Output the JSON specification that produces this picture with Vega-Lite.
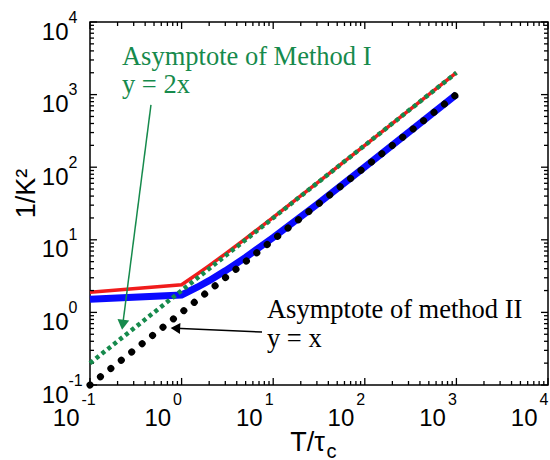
{
  "$schema": "https://vega.github.io/schema/vega-lite/v6.json",
  "width": 458,
  "height": 363,
  "autosize": "none",
  "padding": {"left": 90, "top": 22, "right": 2, "bottom": 75},
  "background": "white",
  "config": {
    "view": {"stroke": "black", "strokeWidth": 1.5},
    "axis": {"grid": false, "domain": false, "labelFlush": false, "labelOverlap": false, "labelColor": "black", "titleColor": "black", "labelFont": "Liberation Sans", "titleFont": "Liberation Sans", "titleFontWeight": "normal"}
  },
  "datasets": {
    "curves": [
      {"series": "red", "x": 0.1, "y": 1.9}, {"series": "red", "x": 1, "y": 2.4}, {"series": "red", "x": 1.5, "y": 3.4}, {"series": "red", "x": 2, "y": 4.4}, {"series": "red", "x": 3, "y": 6.4}, {"series": "red", "x": 5, "y": 10.4}, {"series": "red", "x": 10, "y": 20.4}, {"series": "red", "x": 30, "y": 60.4}, {"series": "red", "x": 100, "y": 200}, {"series": "red", "x": 1000, "y": 2000},
      {"series": "blue", "x": 0.1, "y": 1.52}, {"series": "blue", "x": 1, "y": 1.74}, {"series": "blue", "x": 1.5, "y": 2.24}, {"series": "blue", "x": 2, "y": 2.74}, {"series": "blue", "x": 3, "y": 3.74}, {"series": "blue", "x": 5, "y": 5.74}, {"series": "blue", "x": 10, "y": 10.74}, {"series": "blue", "x": 30, "y": 30.7}, {"series": "blue", "x": 100, "y": 100.7}, {"series": "blue", "x": 1000, "y": 1000},
      {"series": "green", "x": 0.1, "y": 0.2}, {"series": "green", "x": 1000, "y": 2000},
      {"series": "black", "x": 0.1, "y": 0.1}, {"series": "black", "x": 1000, "y": 1000}
    ],
    "ticks": [
      {"v": 0.1, "kind": "major"}, {"v": 1, "kind": "major"}, {"v": 10, "kind": "major"}, {"v": 100, "kind": "major"}, {"v": 1000, "kind": "major"}, {"v": 10000, "kind": "major"},
      {"v": 0.2, "kind": "minor"}, {"v": 0.3, "kind": "minor"}, {"v": 0.4, "kind": "minor"}, {"v": 0.5, "kind": "minor"}, {"v": 0.6, "kind": "minor"}, {"v": 0.7, "kind": "minor"}, {"v": 0.8, "kind": "minor"}, {"v": 0.9, "kind": "minor"},
      {"v": 2, "kind": "minor"}, {"v": 3, "kind": "minor"}, {"v": 4, "kind": "minor"}, {"v": 5, "kind": "minor"}, {"v": 6, "kind": "minor"}, {"v": 7, "kind": "minor"}, {"v": 8, "kind": "minor"}, {"v": 9, "kind": "minor"},
      {"v": 20, "kind": "minor"}, {"v": 30, "kind": "minor"}, {"v": 40, "kind": "minor"}, {"v": 50, "kind": "minor"}, {"v": 60, "kind": "minor"}, {"v": 70, "kind": "minor"}, {"v": 80, "kind": "minor"}, {"v": 90, "kind": "minor"},
      {"v": 200, "kind": "minor"}, {"v": 300, "kind": "minor"}, {"v": 400, "kind": "minor"}, {"v": 500, "kind": "minor"}, {"v": 600, "kind": "minor"}, {"v": 700, "kind": "minor"}, {"v": 800, "kind": "minor"}, {"v": 900, "kind": "minor"},
      {"v": 2000, "kind": "minor"}, {"v": 3000, "kind": "minor"}, {"v": 4000, "kind": "minor"}, {"v": 5000, "kind": "minor"}, {"v": 6000, "kind": "minor"}, {"v": 7000, "kind": "minor"}, {"v": 8000, "kind": "minor"}, {"v": 9000, "kind": "minor"}
    ],
    "arrows": [
      {"group": "I", "x": 0.463, "y": 720}, {"group": "I", "x": 0.2275, "y": 0.675},
      {"group": "II", "x": 7.55, "y": 0.537}, {"group": "II", "x": 0.856, "y": 0.605}
    ],
    "notes": [
      {"group": "I", "x": 0.2234, "y": 2560, "label": "Asymptote of Method I"},
      {"group": "I", "x": 0.2234, "y": 1052, "label": "y = 2x"},
      {"group": "II", "x": 8.55, "y": 0.837, "label": "Asymptote of method II"},
      {"group": "II", "x": 8.55, "y": 0.334, "label": "y = x"}
    ]
  },
  "layer": [
    {
      "data": {"name": "curves"},
      "transform": [{"filter": "datum.series === 'red'"}],
      "mark": {"type": "line", "color": "#f01c1c", "strokeWidth": 3.5, "clip": false},
      "encoding": {
        "x": {"field": "x", "type": "quantitative", "scale": {"type": "log", "domain": [0.1, 10000], "nice": false},
          "axis": {"orient": "bottom", "values": [0.1, 1, 10, 100, 1000, 10000], "ticks": false, "labelExpr": "'10'", "labelFontSize": 24, "labelAlign": "right", "labelBaseline": "alphabetic", "labelPadding": 40, "labelOffset": -11,
            "title": "T/τ", "titleFontSize": 27, "titleX": 217, "titleY": 65, "titleBaseline": "alphabetic", "titleAlign": "center", "titleAnchor": null}},
        "y": {"field": "y", "type": "quantitative", "scale": {"type": "log", "domain": [0.1, 10000], "nice": false},
          "axis": {"orient": "left", "values": [0.1, 1, 10, 100, 1000, 10000], "ticks": false, "labelExpr": "'10'", "labelFontSize": 24, "labelAlign": "right", "labelBaseline": "alphabetic", "labelPadding": 22, "labelOffset": 17,
            "title": "1/K²", "titleFontSize": 27, "titleAngle": -90, "titleX": -64, "titleY": 171, "titleBaseline": "middle", "titleAlign": "center"}}
      }
    },
    {
      "data": {"name": "curves"},
      "transform": [{"filter": "datum.series === 'blue'"}],
      "mark": {"type": "line", "color": "#0a0aff", "strokeWidth": 7, "clip": false},
      "encoding": {
        "x": {"field": "x", "type": "quantitative", "scale": {"type": "log", "domain": [0.1, 10000], "nice": false},
          "axis": {"orient": "bottom", "values": [0.1, 1, 10, 100, 1000, 10000], "ticks": false, "labelExpr": "'' + round(log(datum.value) / LN10)", "labelFontSize": 16, "labelAlign": "left", "labelBaseline": "alphabetic", "labelPadding": 19, "labelOffset": -9,
            "title": "c", "titleFontSize": 20, "titleX": 236, "titleY": 72, "titleBaseline": "alphabetic", "titleAlign": "left"}},
        "y": {"field": "y", "type": "quantitative", "scale": {"type": "log", "domain": [0.1, 10000], "nice": false},
          "axis": {"orient": "left", "values": [0.1, 1, 10, 100, 1000, 10000], "ticks": false, "labelExpr": "'' + round(log(datum.value) / LN10)", "labelFontSize": 16, "labelAlign": "left", "labelBaseline": "alphabetic", "labelPadding": 22, "labelOffset": 0, "title": null}}
      }
    },
    {
      "data": {"name": "ticks"},
      "transform": [{"filter": "datum.kind === 'major'"}],
      "mark": {"type": "rule", "color": "black", "strokeWidth": 1.3},
      "encoding": {
        "x": {"field": "v", "type": "quantitative", "scale": {"type": "log", "domain": [0.1, 10000], "nice": false}, "axis": null},
        "y": {"datum": 0.1, "type": "quantitative", "scale": {"type": "log", "domain": [0.1, 10000], "nice": false}, "axis": null},
        "y2": {"datum": 0.125}
      }
    },
    {
      "data": {"name": "ticks"},
      "transform": [{"filter": "datum.kind === 'minor'"}],
      "mark": {"type": "rule", "color": "black", "strokeWidth": 1.3},
      "encoding": {
        "x": {"field": "v", "type": "quantitative", "scale": {"type": "log", "domain": [0.1, 10000], "nice": false}, "axis": null},
        "y": {"datum": 0.1, "type": "quantitative", "scale": {"type": "log", "domain": [0.1, 10000], "nice": false}, "axis": null},
        "y2": {"datum": 0.1135}
      }
    },
    {
      "data": {"name": "ticks"},
      "transform": [{"filter": "datum.kind === 'major'"}],
      "mark": {"type": "rule", "color": "black", "strokeWidth": 1.3},
      "encoding": {
        "x": {"field": "v", "type": "quantitative", "scale": {"type": "log", "domain": [0.1, 10000], "nice": false}, "axis": null},
        "y": {"datum": 10000, "type": "quantitative", "scale": {"type": "log", "domain": [0.1, 10000], "nice": false}, "axis": null},
        "y2": {"datum": 8013}
      }
    },
    {
      "data": {"name": "ticks"},
      "transform": [{"filter": "datum.kind === 'minor'"}],
      "mark": {"type": "rule", "color": "black", "strokeWidth": 1.3},
      "encoding": {
        "x": {"field": "v", "type": "quantitative", "scale": {"type": "log", "domain": [0.1, 10000], "nice": false}, "axis": null},
        "y": {"datum": 10000, "type": "quantitative", "scale": {"type": "log", "domain": [0.1, 10000], "nice": false}, "axis": null},
        "y2": {"datum": 8810}
      }
    },
    {
      "data": {"name": "ticks"},
      "transform": [{"filter": "datum.kind === 'major'"}],
      "mark": {"type": "rule", "color": "black", "strokeWidth": 1.3},
      "encoding": {
        "y": {"field": "v", "type": "quantitative", "scale": {"type": "log", "domain": [0.1, 10000], "nice": false}, "axis": null},
        "x": {"datum": 0.1, "type": "quantitative", "scale": {"type": "log", "domain": [0.1, 10000], "nice": false}, "axis": null},
        "x2": {"datum": 0.1192}
      }
    },
    {
      "data": {"name": "ticks"},
      "transform": [{"filter": "datum.kind === 'minor'"}],
      "mark": {"type": "rule", "color": "black", "strokeWidth": 1.3},
      "encoding": {
        "y": {"field": "v", "type": "quantitative", "scale": {"type": "log", "domain": [0.1, 10000], "nice": false}, "axis": null},
        "x": {"datum": 0.1, "type": "quantitative", "scale": {"type": "log", "domain": [0.1, 10000], "nice": false}, "axis": null},
        "x2": {"datum": 0.1106}
      }
    },
    {
      "data": {"name": "ticks"},
      "transform": [{"filter": "datum.kind === 'major'"}],
      "mark": {"type": "rule", "color": "black", "strokeWidth": 1.3},
      "encoding": {
        "y": {"field": "v", "type": "quantitative", "scale": {"type": "log", "domain": [0.1, 10000], "nice": false}, "axis": null},
        "x": {"datum": 10000, "type": "quantitative", "scale": {"type": "log", "domain": [0.1, 10000], "nice": false}, "axis": null},
        "x2": {"datum": 8390}
      }
    },
    {
      "data": {"name": "ticks"},
      "transform": [{"filter": "datum.kind === 'minor'"}],
      "mark": {"type": "rule", "color": "black", "strokeWidth": 1.3},
      "encoding": {
        "y": {"field": "v", "type": "quantitative", "scale": {"type": "log", "domain": [0.1, 10000], "nice": false}, "axis": null},
        "x": {"datum": 10000, "type": "quantitative", "scale": {"type": "log", "domain": [0.1, 10000], "nice": false}, "axis": null},
        "x2": {"datum": 9040}
      }
    },
    {
      "data": {"name": "curves"},
      "transform": [{"filter": "datum.series === 'green'"}],
      "mark": {"type": "line", "color": "#168a4c", "strokeWidth": 4.5, "strokeDash": [4, 3.5], "strokeCap": "butt", "clip": false},
      "encoding": {
        "x": {"field": "x", "type": "quantitative", "scale": {"type": "log", "domain": [0.1, 10000], "nice": false}, "axis": null},
        "y": {"field": "y", "type": "quantitative", "scale": {"type": "log", "domain": [0.1, 10000], "nice": false}, "axis": null}
      }
    },
    {
      "data": {"name": "curves"},
      "transform": [{"filter": "datum.series === 'black'"}],
      "mark": {"type": "line", "color": "black", "strokeWidth": 7, "strokeDash": [0.1, 13.2], "strokeCap": "round", "clip": false},
      "encoding": {
        "x": {"field": "x", "type": "quantitative", "scale": {"type": "log", "domain": [0.1, 10000], "nice": false}, "axis": null},
        "y": {"field": "y", "type": "quantitative", "scale": {"type": "log", "domain": [0.1, 10000], "nice": false}, "axis": null}
      }
    },
    {
      "data": {"name": "arrows"},
      "mark": {"type": "line", "strokeWidth": 1.5, "clip": false},
      "encoding": {
        "x": {"field": "x", "type": "quantitative", "scale": {"type": "log", "domain": [0.1, 10000], "nice": false}, "axis": null},
        "y": {"field": "y", "type": "quantitative", "scale": {"type": "log", "domain": [0.1, 10000], "nice": false}, "axis": null},
        "color": {"field": "group", "type": "nominal", "scale": {"domain": ["I", "II"], "range": ["#168a4c", "#000000"]}, "legend": null},
        "detail": {"field": "group"}
      }
    },
    {
      "data": {"name": "arrows"},
      "transform": [{"filter": "datum.group === 'I' && datum.y < 1"}],
      "mark": {"type": "point", "shape": "triangle-down", "filled": true, "opacity": 1, "size": 140, "angle": 7.4, "color": "#168a4c", "clip": false},
      "encoding": {
        "x": {"field": "x", "type": "quantitative", "scale": {"type": "log", "domain": [0.1, 10000], "nice": false}, "axis": null},
        "y": {"field": "y", "type": "quantitative", "scale": {"type": "log", "domain": [0.1, 10000], "nice": false}, "axis": null}
      }
    },
    {
      "data": {"name": "arrows"},
      "transform": [{"filter": "datum.group === 'II' && datum.x < 1"}],
      "mark": {"type": "point", "shape": "triangle-left", "filled": true, "opacity": 1, "size": 120, "angle": 2.5, "color": "#000000", "clip": false},
      "encoding": {
        "x": {"field": "x", "type": "quantitative", "scale": {"type": "log", "domain": [0.1, 10000], "nice": false}, "axis": null},
        "y": {"field": "y", "type": "quantitative", "scale": {"type": "log", "domain": [0.1, 10000], "nice": false}, "axis": null}
      }
    },
    {
      "data": {"name": "notes"},
      "mark": {"type": "text", "font": "Liberation Serif", "fontSize": 26.5, "align": "left", "baseline": "alphabetic", "clip": false},
      "encoding": {
        "x": {"field": "x", "type": "quantitative", "scale": {"type": "log", "domain": [0.1, 10000], "nice": false}, "axis": null},
        "y": {"field": "y", "type": "quantitative", "scale": {"type": "log", "domain": [0.1, 10000], "nice": false}, "axis": null},
        "text": {"field": "label"},
        "color": {"field": "group", "type": "nominal", "scale": {"domain": ["I", "II"], "range": ["#168a4c", "#000000"]}, "legend": null}
      }
    }
  ],
  "resolve": {"axis": {"x": "independent", "y": "independent"}}
}
